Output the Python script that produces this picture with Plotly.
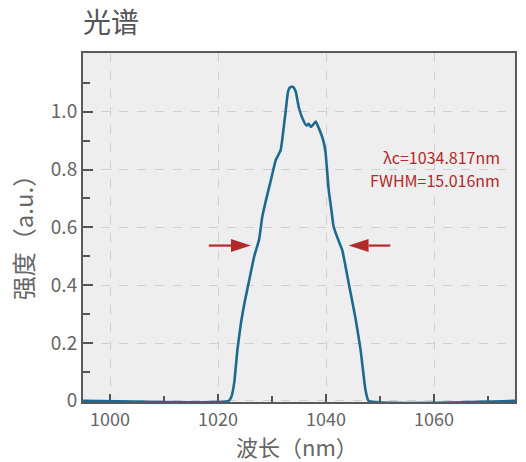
import plotly.graph_objects as go

# ---- data ----
wavelength = [995, 1022.0, 1022.5, 1023.0, 1023.6, 1024.25, 1024.9, 1025.8, 1026.7, 1027.6,
              1028.2, 1028.9, 1029.8, 1030.7, 1031.6, 1032.5, 1033.0, 1033.4, 1033.9,
              1034.4, 1035.0, 1035.9, 1036.4, 1036.8, 1037.2, 1037.6, 1038.1, 1038.5,
              1039.0, 1039.5, 1039.9, 1040.5, 1041.0, 1041.4, 1042.2, 1043.0, 1044.2,
              1045.4, 1046.4, 1047.3, 1047.9, 1075]
intensity = [0, 0, 0.015, 0.062, 0.177, 0.269, 0.338, 0.419, 0.499, 0.557,
             0.637, 0.695, 0.764, 0.833, 0.867, 0.997, 1.072, 1.085, 1.086,
             1.069, 1.012, 0.966, 0.952, 0.958, 0.947, 0.955, 0.966, 0.950,
             0.928, 0.900, 0.862, 0.730, 0.660, 0.603, 0.560, 0.522, 0.407,
             0.292, 0.177, 0.039, 0, 0]

arrow_y = 0.537
left_arrow = (1018.3, 1026.1)    # tail, tip
right_arrow = (1051.9, 1044.2)   # tail, tip
center_wl = 1034.817
fwhm = 15.016

x_range = [995, 1075]
y_range = [-0.004, 1.203]
x_ticks = [1000, 1020, 1040, 1060]
y_ticks = [0, 0.2, 0.4, 0.6, 0.8, 1.0]
y_tick_text = ["0", "0.2", "0.4", "0.6", "0.8", "1.0"]

W, H = 526, 462
ML, MR, MT, MB = 83, 9, 53, 60
plot_w = W - ML - MR
plot_h = H - MT - MB
px_x = plot_w / (x_range[1] - x_range[0])
px_y = plot_h / (y_range[1] - y_range[0])

FONT = "Noto Sans CJK SC"
GRAY = "#666666"
RED = "#b22a2a"
BLUE = "#1c6a8e"


def paper_x(px):
    return (px - ML) / plot_w


def paper_y(py):
    return (MT + plot_h - py) / plot_h


fig = go.Figure()
fig.add_trace(go.Scatter(x=wavelength, y=intensity, mode="lines",
                         line=dict(color=BLUE, width=2.6, shape="spline", smoothing=0.4),
                         hoverinfo="skip", showlegend=False))

head_len = 20 / px_x
head_half = 6.5 / px_y
for tail, tip in (left_arrow, right_arrow):
    d = 1 if tip > tail else -1
    base = tip - d * head_len
    fig.add_trace(go.Scatter(x=[tail, base], y=[arrow_y, arrow_y], mode="lines",
                             line=dict(color=RED, width=2.2), hoverinfo="skip", showlegend=False))
    fig.add_shape(type="path",
                  path=f"M {tip} {arrow_y} L {base} {arrow_y + head_half} L {base} {arrow_y - head_half} Z",
                  xref="x", yref="y", fillcolor=RED, line=dict(color=RED, width=0))

for txt, py in ((f"λc={center_wl:.3f}nm", 157), (f"FWHM={fwhm:.3f}nm", 179.5)):
    fig.add_annotation(x=paper_x(503.5), xref="paper", xanchor="right",
                       y=paper_y(py), yref="paper", yanchor="middle",
                       text=txt, showarrow=False,
                       font=dict(family=FONT, size=16, color=RED))

# axis titles
fig.add_annotation(x=paper_x(298), xref="paper", y=paper_y(446), yref="paper",
                   text="波长（nm）", showarrow=False, font=dict(family=FONT, size=22, color=GRAY),
                   xanchor="center", yanchor="middle", borderpad=0)
fig.add_annotation(x=paper_x(22), xref="paper", y=paper_y(232), yref="paper",
                   text="强度（a.u.）", showarrow=False, textangle=-90,
                   font=dict(family=FONT, size=24, color=GRAY),
                   xanchor="center", yanchor="middle")

fig.update_layout(
    width=W, height=H,
    margin=dict(l=ML, r=MR, t=MT, b=MB),
    paper_bgcolor="white", plot_bgcolor="#eeeeee",
    title=dict(text="光谱", x=ML / W, xref="container", xanchor="left",
               y=1 - 23 / H, yref="container", yanchor="middle",
               font=dict(family=FONT, size=28, color="#555555")),
    xaxis=dict(range=x_range, tickvals=x_ticks, ticks="inside", ticklen=8, tickwidth=2,
               tickcolor="#555555", showline=True, linecolor="#5a5a5a", linewidth=2,
               mirror=True, showgrid=True, gridcolor="#cfcfcf", griddash="dash", gridwidth=1,
               zeroline=False, layer="below traces",
               tickfont=dict(family=FONT, size=18, color=GRAY),
               minor=dict(dtick=10, tick0=1000, ticks="inside", ticklen=6, tickwidth=2,
                          tickcolor="#555555", showgrid=False)),
    yaxis=dict(range=y_range, tickvals=y_ticks, ticktext=y_tick_text, ticks="inside",
               ticklen=10, tickwidth=2, tickcolor="#555555", showline=True,
               linecolor="#5a5a5a", linewidth=2, mirror=True, showgrid=True,
               gridcolor="#cfcfcf", griddash="dash", gridwidth=1, zeroline=False,
               layer="below traces",
               tickfont=dict(family=FONT, size=19, color=GRAY),
               minor=dict(dtick=0.1, tick0=0, ticks="inside", ticklen=7, tickwidth=2,
                          tickcolor="#555555", showgrid=False)),
)

fig.write_html("out.html", config={"displayModeBar": False},
               post_script="document.body.style.margin='0';document.body.style.padding='0';")
